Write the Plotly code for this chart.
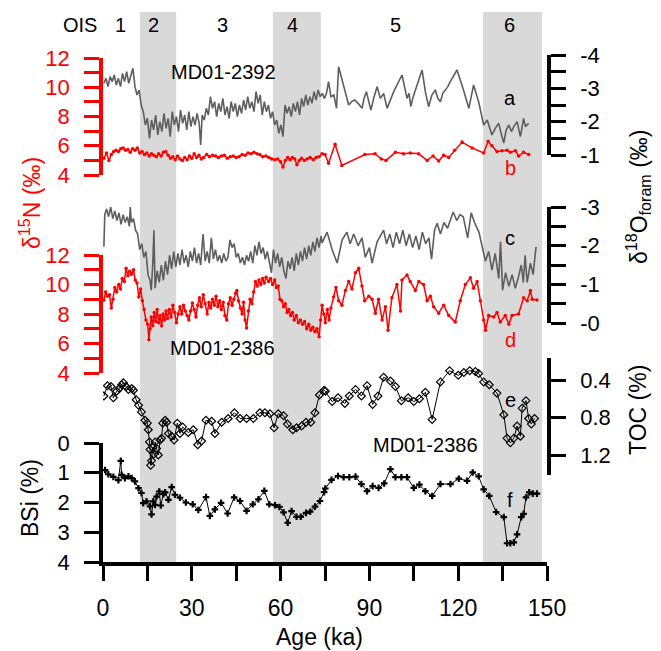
import plotly.graph_objects as go

# ---------------- data ----------------
# a: MD01-2392 delta18O foram (permil)
a_age = [0.3,1.0,1.7,2.4,3.1,3.8,4.5,5.2,5.9,6.6,7.3,8.0,8.7,9.4,10.1,10.8,11.5,12.2,12.9,13.6,
         14.3,15.0,15.7,16.4,17.1,17.8,18.5,19.2,19.9,20.6,21.3,22.0,22.7,23.4,24.1,24.8,25.5,26.2,26.9,27.6,
         28.3,29.0,29.7,30.4,31.1,31.8,32.5,33.0,33.5,34.2,34.9,35.6,36.3,37.0,37.7,38.4,39.1,39.8,40.5,41.2,
         41.9,42.6,43.3,44.0,44.7,45.4,46.1,46.8,47.5,48.2,48.9,49.6,50.3,51.0,51.7,52.4,53.1,53.8,54.5,55.2,
         55.9,56.6,57.3,58.0,58.7,59.4,60.1,60.8,61.5,62.2,62.9,63.6,64.3,65.0,65.7,66.4,67.1,67.8,68.5,69.2,
         69.9,70.6,71.3,72.0,72.7,73.4,74.1,74.8,75.5,76.2,77.0,78.0,78.9,79.6,
         81.3,83.0,84.0,85.0,86.2,87.5,88.2,89.0,89.8,90.5,91.6,92.6,93.7,94.8,96.0,97.1,98.2,99.6,101.0,102.0,
         102.7,103.4,104.0,104.8,105.5,106.6,107.8,108.9,110.0,111.1,112.3,113.1,114.0,114.8,115.6,116.5,117.3,118.4,119.6,121.6,
         123.6,124.4,125.2,126.9,128.6,129.8,130.6,131.4,132.5,133.7,134.5,135.4,136.2,137.1,138.0,138.8,139.9,141.0,142.1,142.7,143.8]
a_val = [-3.15,-3.30,-3.05,-3.35,-3.20,-3.40,-3.10,-3.30,-3.05,-3.45,-3.20,-3.50,-3.15,-3.40,-3.60,-3.05,-2.80,-2.95,-2.50,-2.30,
         -1.90,-2.10,-1.50,-2.05,-1.75,-2.20,-1.60,-2.00,-1.70,-2.25,-1.80,-2.10,-1.55,-2.30,-1.90,-2.15,-1.70,-2.35,-1.95,-2.20,
         -1.75,-2.30,-1.85,-2.15,-1.90,-2.25,-1.95,-1.30,-2.20,-2.05,-2.40,-2.20,-2.75,-2.40,-2.60,-2.15,-2.55,-2.30,-2.70,-2.20,
         -2.45,-2.10,-2.60,-2.30,-2.55,-2.15,-2.50,-2.25,-2.65,-2.35,-2.75,-2.40,-2.60,-2.30,-2.90,-2.55,-2.80,-2.20,-2.60,-2.30,
         -2.50,-2.10,-2.30,-1.90,-2.05,-1.65,-1.90,-1.55,-2.50,-2.25,-2.45,-2.15,-2.55,-2.30,-2.60,-2.20,-2.70,-2.45,-2.80,-2.50,
         -2.75,-2.55,-2.90,-2.65,-2.95,-2.75,-2.85,-2.70,-2.85,-3.20,-2.75,-2.80,-2.40,-3.65,
         -3.05,-2.50,-2.60,-2.65,-2.55,-2.40,-2.70,-2.90,-2.60,-2.35,-2.75,-3.05,-2.70,-2.85,-2.40,-2.65,-2.90,-3.15,-3.40,-3.00,
         -2.70,-2.85,-2.45,-2.75,-2.95,-3.25,-3.55,-2.90,-2.45,-2.80,-2.95,-2.70,-2.60,-2.85,-2.95,-3.05,-3.20,-3.35,-3.55,-3.00,
         -2.40,-2.75,-3.10,-2.60,-1.90,-2.05,-1.80,-1.60,-1.80,-1.95,-1.65,-1.36,-1.75,-1.90,-1.70,-1.85,-2.00,-1.55,-2.10,-1.85,-1.95]

# b: MD01-2392 delta15N (permil)
b_age = [0.3,1.2,2.0,2.8,3.6,4.4,5.2,6.0,6.8,7.6,8.4,9.2,10.0,10.8,11.6,12.4,13.2,14.0,14.8,15.6,
         16.4,17.2,18.0,18.8,19.6,20.4,21.2,22.0,22.8,23.6,24.4,25.2,26.0,26.8,27.6,28.4,29.2,30.0,30.8,31.6,
         32.4,33.2,34.0,35.0,36.0,37.0,38.0,39.0,40.0,41.0,42.0,43.0,44.0,45.0,46.0,47.0,48.0,49.0,50.0,51.0,
         52.0,53.0,54.0,55.0,56.0,57.0,58.0,59.0,60.0,60.8,61.6,62.4,63.2,64.0,64.8,65.5,66.3,67.1,68.0,69.0,
         70.0,71.0,72.0,73.0,74.0,75.0,76.2,78.4,80.7,88.5,91.9,94.0,95.6,98.8,101.5,103.8,106.6,109.5,111.5,113.4,
         115.1,116.8,118.8,121.3,124.7,128.6,130.1,131.4,133.1,134.8,136.5,137.6,139.3,140.4,142.1,143.8]
b_val = [5.15,5.5,5.0,5.4,5.6,5.7,5.6,5.8,5.85,5.7,5.75,5.55,5.8,5.7,5.85,5.5,5.6,5.4,5.5,5.3,
         5.45,5.35,5.25,5.45,5.3,5.55,5.6,5.35,5.15,5.25,5.05,5.3,5.1,5.0,5.2,5.05,5.3,5.15,5.45,5.2,
         5.35,5.1,5.2,5.4,5.25,5.35,5.3,5.2,5.3,5.35,5.15,5.25,5.3,5.2,5.25,5.4,5.35,5.5,5.45,5.55,
         5.45,5.4,5.25,5.3,5.2,5.1,5.05,5.1,4.9,4.55,5.0,5.2,5.05,5.2,5.1,4.7,5.0,5.15,5.0,5.1,
         5.2,5.05,5.2,5.25,5.45,5.4,4.8,6.1,4.65,5.4,5.45,5.1,5.0,5.55,5.45,5.5,5.45,5.0,5.3,4.95,
         5.35,5.2,5.7,6.25,5.85,5.5,6.3,6.0,5.6,5.65,5.7,5.55,5.65,5.3,5.55,5.4]

# c: MD01-2386 delta18O foram (permil)
c_age = [0.3,0.6,1.2,1.9,2.6,3.3,4.0,4.7,5.4,6.1,6.8,7.5,8.2,8.9,9.2,9.6,10.3,11.0,11.7,12.4,
         13.1,13.8,14.5,15.2,15.9,16.3,16.8,17.2,17.6,18.3,19.0,19.7,20.4,21.1,21.8,22.5,23.2,23.9,24.6,25.3,
         26.0,26.7,27.4,28.1,28.8,29.5,30.2,30.9,31.6,32.3,33.0,33.8,34.5,35.2,35.9,36.6,37.3,38.0,38.7,39.4,
         40.1,40.8,41.5,42.2,42.9,43.6,44.3,45.0,45.7,46.4,47.1,47.8,48.5,49.2,49.9,50.6,51.3,52.0,52.7,53.4,
         54.1,54.8,55.5,56.2,56.9,57.6,58.3,59.0,59.7,60.4,61.1,61.8,62.5,63.2,63.9,64.6,65.3,66.0,66.7,67.4,
         68.1,68.8,69.5,70.2,70.9,71.6,72.3,73.0,73.7,74.0,75.7,77.4,79.1,80.8,82.4,83.5,84.7,86.2,87.5,88.6,
         90.0,90.9,92.6,94.8,95.8,96.9,98.0,99.1,100.2,101.3,102.4,103.5,104.6,105.7,106.8,107.9,109.0,110.1,111.0,112.0,
         112.9,114.0,115.2,116.4,117.5,118.3,119.5,120.6,121.7,123.2,124.4,125.5,127.0,129.2,130.3,131.4,132.5,133.7,134.3,135.0,
         136.0,137.1,138.2,139.3,140.4,141.3,142.0,142.6,143.3,144.4,145.3,146.3]
c_val = [-1.97,-2.80,-2.95,-2.75,-3.00,-2.70,-2.90,-2.65,-2.85,-2.55,-2.80,-2.60,-2.75,-2.50,-3.00,-2.60,-2.70,-2.40,-2.30,-1.90,
         -2.05,-1.70,-1.85,-1.25,-1.10,-0.85,-1.50,-2.40,-0.90,-1.35,-1.05,-1.50,-1.10,-1.60,-1.25,-1.75,-1.40,-1.85,-1.45,-1.80,
         -1.50,-1.90,-1.55,-1.75,-1.45,-1.85,-1.60,-1.95,-1.55,-1.80,-1.50,-2.30,-1.60,-1.85,-1.55,-2.20,-1.65,-1.90,-1.60,-1.75,
         -1.55,-1.80,-1.60,-1.70,-2.15,-1.95,-2.05,-1.70,-1.80,-1.55,-1.70,-1.50,-1.75,-1.60,-1.85,-1.55,-2.00,-1.75,-2.10,-1.80,
         -1.95,-1.65,-1.85,-1.55,-1.30,-1.90,-1.55,-1.80,-1.45,-1.70,-1.35,-1.15,-1.60,-1.40,-1.70,-1.35,-1.80,-1.50,-1.85,-1.60,
         -1.95,-1.65,-2.00,-1.75,-2.10,-1.85,-2.20,-1.95,-2.25,-2.07,-2.35,-1.90,-1.55,-2.15,-2.35,-2.05,-2.30,-2.00,-2.20,-1.70,
         -1.95,-1.55,-2.10,-2.40,-2.05,-2.30,-1.95,-2.35,-2.05,-2.40,-2.00,-2.30,-1.95,-2.25,-1.90,-2.35,-2.05,-2.20,-1.65,-2.40,
         -2.58,-2.30,-2.60,-2.45,-2.70,-2.87,-2.65,-2.80,-2.75,-2.20,-2.85,-2.60,-2.35,-1.60,-1.85,-1.37,-1.80,-1.15,-2.10,-0.85,
         -1.30,-0.95,-1.25,-0.90,-1.20,-1.50,-1.05,-1.75,-1.05,-1.55,-1.25,-1.97]

# d: MD01-2386 delta15N (permil)
d_age = [0.3,0.9,1.5,2.2,2.8,3.4,4.0,4.6,5.3,5.9,6.5,7.2,7.8,8.4,9.0,9.6,10.3,10.9,11.5,12.1,
         12.7,13.3,13.9,14.5,15.1,15.5,15.9,16.3,16.8,17.3,17.8,18.3,18.8,19.3,19.8,20.3,20.8,21.3,21.8,22.4,
         23.0,23.6,24.2,24.8,25.4,26.0,26.6,27.2,27.8,28.4,29.0,29.6,30.2,30.8,31.4,32.0,32.6,33.2,33.9,34.5,
         35.2,35.8,36.4,37.0,37.6,38.2,38.8,39.4,40.0,40.6,41.2,41.8,42.4,43.0,43.6,44.2,44.8,45.2,45.8,46.4,
         47.0,47.5,48.0,48.5,49.1,49.7,50.3,50.9,51.5,52.1,52.7,53.3,53.9,54.5,55.1,55.9,56.6,57.3,58.0,58.6,
         59.2,59.8,60.4,61.0,61.6,62.2,62.8,63.4,64.0,64.6,65.3,66.0,66.7,67.4,68.1,68.8,69.5,70.2,70.9,71.6,
         72.3,73.0,73.5,74.0,74.6,75.1,75.8,76.4,77.0,77.9,78.7,79.6,80.7,81.9,83.0,84.1,85.3,86.4,87.5,88.4,
         89.8,90.9,92.0,93.1,94.3,95.4,96.3,97.6,99.3,100.5,101.0,102.7,103.8,105.5,106.7,108.3,109.5,110.6,111.7,113.4,
         115.1,116.8,119.0,120.7,122.4,124.1,125.2,126.4,127.5,128.6,129.2,130.3,132.0,133.1,134.2,135.9,137.1,138.2,140.4,142.1,
         143.3,144.4,145.0,146.6]
d_val = [8.95,9.5,9.2,9.3,8.4,9.0,9.8,9.5,10.0,9.7,10.4,10.2,11.1,10.6,10.9,10.7,11.0,10.3,10.1,9.15,
         9.7,8.9,8.3,7.6,7.3,6.25,7.0,7.8,7.2,8.1,7.5,8.3,7.4,7.9,7.2,8.0,7.6,8.2,7.7,8.3,
         7.8,8.6,8.1,7.4,8.0,8.5,8.0,8.6,8.2,7.9,7.6,8.2,8.75,8.3,7.8,8.6,9.1,8.5,9.3,8.7,
         8.0,8.8,8.4,9.0,8.6,9.2,8.5,8.9,8.3,8.8,7.9,7.6,8.7,9.1,8.6,9.0,9.4,9.6,8.9,8.4,
         8.0,8.8,7.6,7.05,8.2,9.0,8.7,9.5,10.2,9.9,10.3,10.0,10.4,10.1,10.5,10.2,10.4,10.0,10.3,9.8,
         9.9,9.0,8.9,8.5,8.7,8.1,8.3,7.9,8.1,7.6,7.9,7.4,7.6,7.3,7.5,7.0,7.3,6.9,7.1,6.8,
         7.0,6.45,7.6,8.6,8.0,7.4,8.3,7.6,8.4,9.15,9.8,8.9,8.6,9.6,10.2,9.7,10.8,11.1,9.9,8.9,
         9.2,9.0,8.05,9.0,7.6,8.5,6.9,9.1,10.0,8.2,10.3,10.65,10.2,9.6,10.2,10.0,8.9,9.2,8.5,8.05,
         8.6,7.9,7.45,8.9,10.0,10.45,9.75,10.2,8.9,7.6,6.9,7.9,7.8,8.1,7.45,7.9,7.3,7.9,8.0,9.1,
         8.9,9.6,9.0,8.95]

# e: MD01-2386 TOC (%)
e_age = [0.3,1.5,2.7,3.5,4.6,5.5,6.3,6.9,7.8,8.6,9.7,10.3,11.2,12.0,13.0,14.2,15.0,15.3,15.7,15.9,
         16.1,16.4,16.8,17.2,17.6,18.1,18.7,19.3,19.8,20.2,21.0,21.5,22.1,23.2,24.0,25.1,26.0,26.9,28.8,30.5,
         32.0,33.3,34.8,36.7,37.8,40.1,42.3,44.4,46.3,48.5,50.8,53.0,54.7,56.4,57.8,59.2,61.0,62.3,64.1,65.4,
         67.1,68.6,70.2,71.6,73.1,74.7,75.1,77.4,79.4,81.7,83.2,85.3,87.3,89.2,91.1,92.9,94.8,97.1,98.8,100.8,
         103.1,105.0,106.9,108.9,111.2,114.0,117.1,120.0,121.9,123.9,125.8,126.9,128.6,130.5,133.1,135.4,136.5,137.6,138.8,139.9,
         141.0,141.6,142.9,143.8,144.7,145.8]
e_val = [0.57,0.46,0.47,0.59,0.52,0.49,0.45,0.43,0.47,0.50,0.49,0.51,0.61,0.67,0.74,0.83,0.86,0.93,1.06,1.14,
         1.31,1.26,1.12,1.19,1.06,1.13,1.20,1.04,1.02,0.86,0.83,0.85,0.97,1.00,1.04,0.86,0.97,0.90,0.96,0.93,
         1.09,1.05,0.83,0.84,0.97,0.85,0.81,0.75,0.81,0.81,0.81,0.75,0.75,0.76,0.91,0.76,0.78,0.87,0.93,0.91,
         0.89,0.85,0.85,0.75,0.56,0.51,0.52,0.63,0.59,0.65,0.57,0.50,0.57,0.46,0.66,0.57,0.37,0.41,0.47,0.62,
         0.59,0.63,0.60,0.53,0.82,0.42,0.30,0.35,0.32,0.30,0.31,0.33,0.42,0.45,0.54,0.77,1.02,1.07,1.02,0.89,
         1.00,0.70,0.62,0.81,0.87,0.81]

# f: MD01-2386 BSi (%)
f_age = [0.7,1.8,3.5,5.2,6.0,6.3,7.4,8.6,9.7,10.8,12.0,13.0,13.6,14.7,15.9,16.4,17.0,17.6,18.1,19.0,
         19.5,20.4,21.0,22.1,23.2,24.3,26.0,28.0,30.3,32.2,34.8,36.1,37.8,39.9,42.1,44.3,46.3,48.5,50.6,52.5,
         54.5,56.2,58.1,59.6,61.0,62.4,63.7,65.4,66.8,68.6,70.0,71.6,73.3,74.7,75.1,77.2,79.4,81.3,83.2,85.3,
         87.3,89.2,91.1,93.1,95.0,97.1,98.8,100.8,102.7,105.0,106.9,108.9,111.2,114.0,117.4,120.2,123.0,124.9,126.9,128.6,
         130.5,132.8,135.4,136.5,137.6,138.8,139.9,141.3,142.1,142.9,144.0,145.2,146.6]
f_val = [0.91,1.05,1.14,1.25,0.60,1.07,1.18,1.12,1.18,1.29,1.52,1.68,2.02,1.96,2.13,2.40,1.96,2.08,1.80,1.63,
         2.10,1.72,1.66,1.91,1.48,1.74,1.84,2.00,2.06,2.25,1.82,2.45,2.23,2.01,2.37,1.83,1.95,2.28,2.06,1.89,
         1.61,2.06,2.09,2.15,2.33,2.68,2.29,2.48,2.48,2.35,2.31,2.14,1.95,1.65,1.53,1.24,1.11,1.15,1.15,1.13,
         1.38,1.62,1.45,1.51,1.36,0.88,1.15,1.15,1.15,1.51,1.40,1.62,1.78,1.38,1.38,1.20,1.27,0.99,1.12,1.56,
         1.78,2.32,2.49,3.37,3.37,3.34,3.07,2.49,2.38,1.83,1.66,1.70,1.70]

# marine isotope stages (shaded: 2, 4, 6)
ois_bands = [(12.5, 24.7), (57.4, 73.6), (128.4, 148.3)]
ois_labels = ["1", "2", "3", "4", "5", "6"]
ois_label_pos = [6.0, 17.2, 40.5, 63.9, 98.7, 137.2]

x_ticks = [0, 15, 30, 45, 60, 75, 90, 105, 120, 135, 150]
x_ticktext = ["0", " ", "30", " ", "60", " ", "90", " ", "120", " ", "150"]

# ---------------- figure ----------------
FONT = "Liberation Sans, Arial, sans-serif"
RED = "#ff0000"
GRAY = "#5e5e5e"
W, H = 661, 651
L, R, T, B = 103, 114, 12, 89
PW, PH = W - L - R, H - T - B


def py(p):  # pixel y -> paper
    return (H - B - p) / PH


def px(p):  # pixel x -> paper
    return (p - L) / PW


fig = go.Figure()

fig.add_trace(go.Scatter(x=a_age, y=a_val, xaxis="x", yaxis="y4", mode="lines",
                         line=dict(color=GRAY, width=1.6)))
fig.add_trace(go.Scatter(x=b_age, y=b_val, xaxis="x", yaxis="y2", mode="lines+markers",
                         line=dict(color=RED, width=1.5), marker=dict(size=3.5, color=RED)))
fig.add_trace(go.Scatter(x=c_age, y=c_val, xaxis="x", yaxis="y5", mode="lines",
                         line=dict(color=GRAY, width=1.6)))
fig.add_trace(go.Scatter(x=d_age, y=d_val, xaxis="x", yaxis="y3", mode="lines+markers",
                         line=dict(color=RED, width=1.5), marker=dict(size=3.5, color=RED)))
fig.add_trace(go.Scatter(x=e_age, y=e_val, xaxis="x", yaxis="y6", mode="lines+markers",
                         line=dict(color="black", width=1),
                         marker=dict(symbol="diamond-open", size=6, color="black", line=dict(width=1.2))))
fig.add_trace(go.Scatter(x=f_age, y=f_val, xaxis="x", yaxis="y", mode="lines+markers",
                         line=dict(color="black", width=1),
                         marker=dict(symbol="cross", size=5.5, color="black")))

for x0, x1 in ois_bands:
    fig.add_shape(type="rect", xref="x", yref="paper", x0=x0, x1=x1, y0=-0.002, y1=1.0,
                  fillcolor="#d9d9d9", line=dict(width=0), layer="below")


def yax(domain, rng, tickvals, ticktext, color, side):
    return dict(domain=domain, range=rng, anchor="x", side=side, automargin=False,
                showline=True, linecolor=color, linewidth=3.5,
                ticks="outside", ticklen=15, tickwidth=3, tickcolor=color,
                tickvals=tickvals, ticktext=ticktext, ticklabelstandoff=10,
                tickfont=dict(family=FONT, size=22, color=color),
                showgrid=False, zeroline=False, fixedrange=True)


fig.update_layout(
    width=W, height=H, autosize=False,
    margin=dict(l=L, r=R, t=T, b=B, pad=0),
    paper_bgcolor="white", plot_bgcolor="rgba(0,0,0,0)",
    showlegend=False,
    font=dict(family=FONT, color="black"),
    xaxis=dict(domain=[0, 1], range=[0, 150], anchor="y", automargin=False,
               showline=True, linecolor="black", linewidth=3.5,
               ticks="outside", ticklen=15, tickwidth=3, tickcolor="black",
               tickvals=x_ticks, ticktext=x_ticktext, ticklabelstandoff=8,
               tickfont=dict(family=FONT, size=23, color="black"),
               showgrid=False, zeroline=False),
    yaxis=yax([py(562), py(443)], [4, 0], [0, 1, 2, 3, 4], ["0", "1", "2", "3", "4"], "black", "left"),
    yaxis2=yax([py(175), py(58)], [4, 12], list(range(4, 13)),
               ["4", " ", "6", " ", "8", " ", "10", " ", "12"], RED, "left"),
    yaxis3=yax([py(373), py(255)], [4, 12], list(range(4, 13)),
               ["4", " ", "6", " ", "8", " ", "10", " ", "12"], RED, "left"),
    yaxis4=yax([py(155), py(55)], [-1, -4], [-4, -3.5, -3, -2.5, -2, -1.5, -1],
               ["-4", " ", "-3", " ", "-2", " ", "-1"], "black", "right"),
    yaxis5=yax([py(323), py(207)], [0, -3], [-3, -2.5, -2, -1.5, -1, -0.5, 0],
               ["-3", " ", "-2", " ", "-1", " ", "-0"], "black", "right"),
    yaxis6=yax([py(475), py(358)], [1.413, 0.165], [0.4, 0.8, 1.2],
               ["0.4", "0.8", "1.2"], "black", "right"),
)

ann = []


def txt(x, y, s, size=20, color="black", angle=0):
    ann.append(dict(x=px(x), y=py(y), xref="paper", yref="paper", text=s, showarrow=False,
                    xanchor="center", yanchor="middle", textangle=angle,
                    font=dict(family=FONT, size=size, color=color)))


txt(80, 25, "OIS")
for lab, pos in zip(ois_labels, ois_label_pos):
    ann.append(dict(x=pos, y=py(25), xref="x", yref="paper", text=lab, showarrow=False,
                    xanchor="center", yanchor="middle", font=dict(family=FONT, size=20, color="black")))

txt(223, 72, "MD01-2392")
txt(222, 348, "MD01-2386")
txt(425, 445, "MD01-2386")
txt(510, 98, "a")
txt(510, 168, "b", color=RED)
txt(510, 238, "c")
txt(510, 340, "d", color=RED)
txt(510, 400, "e")
txt(510, 500, "f")

txt(30, 203, "δ<sup>15</sup>N (‰)", size=23, color=RED, angle=-90)
txt(638, 197, "δ<sup>18</sup>O<sub>foram</sub> (‰)", size=23, angle=-90)
txt(638, 410, "TOC (%)", size=23, angle=-90)
txt(30, 498, "BSi (%)", size=23, angle=-90)
txt(319, 637, "Age (ka)", size=23)

fig.update_layout(annotations=ann)
fig.write_html("out.html", config={"displayModeBar": False})

# remove default page margin so the figure sits at the window's top-left corner
with open("out.html", "r", encoding="utf-8") as fh:
    html = fh.read()
html = html.replace("<head>", "<head><style>html,body{margin:0;padding:0;overflow:hidden;}</style>", 1)
with open("out.html", "w", encoding="utf-8") as fh:
    fh.write(html)
